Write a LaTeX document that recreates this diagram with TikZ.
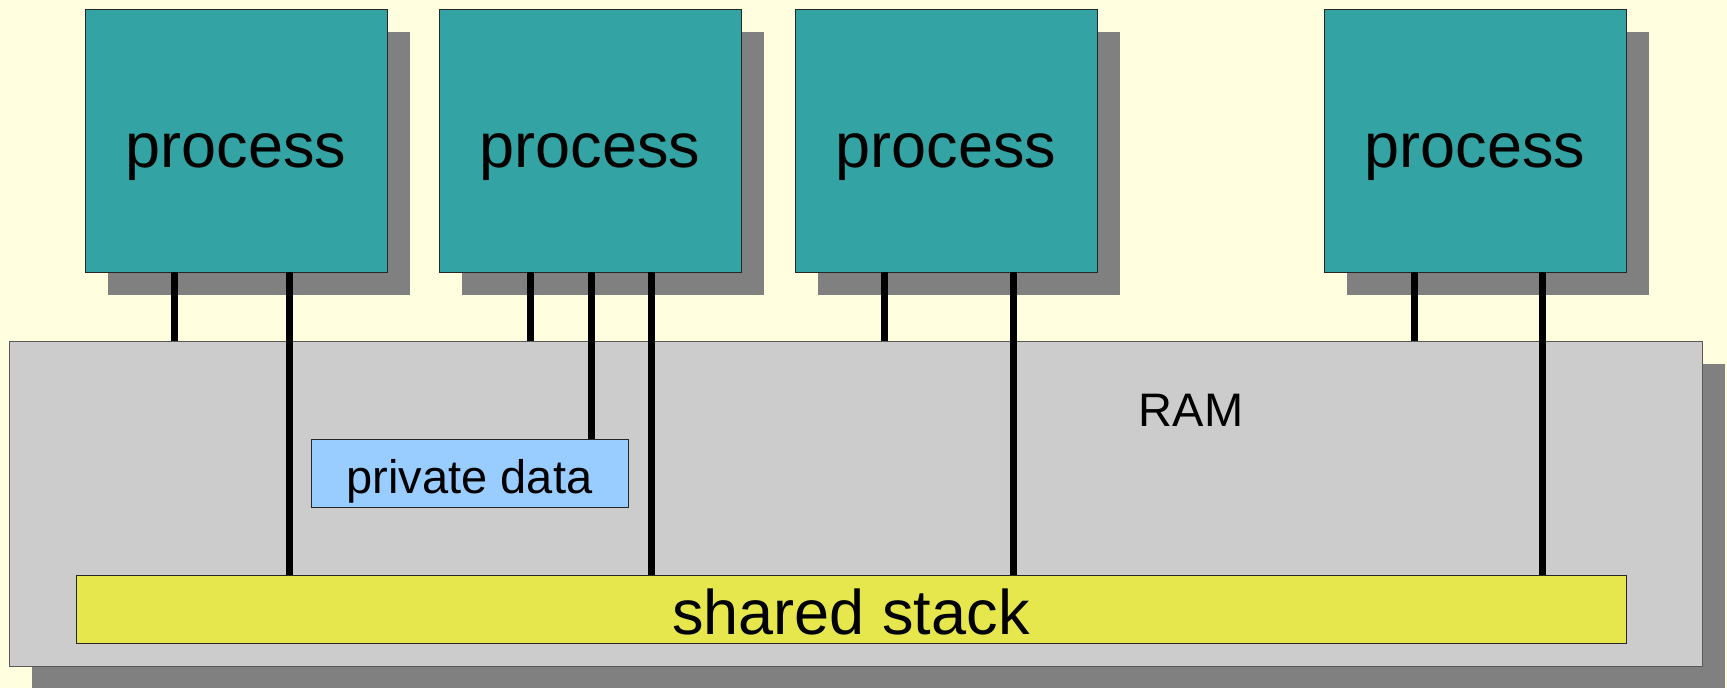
\documentclass[tikz,border=0pt]{standalone}
\usepackage{fontspec}
\setmainfont{Liberation Sans}
\usetikzlibrary{shadows}

\definecolor{paper}{HTML}{FFFFE0}
\definecolor{procfill}{HTML}{33A3A3}
\definecolor{shadowgray}{HTML}{808080}
\definecolor{ramfill}{HTML}{CCCCCC}
\definecolor{stackfill}{HTML}{E6E64D}
\definecolor{privfill}{HTML}{99CCFF}

\tikzset{
  box/.style={draw=black!85, line width=1pt, anchor=north west, inner sep=0pt, outer sep=0pt,
              text depth=0pt},
  shade23/.style={drop shadow={shadow xshift=23pt, shadow yshift=-23pt, fill=shadowgray, opacity=1}},
  proc/.style={box, shade23, fill=procfill, minimum width=302pt, minimum height=263pt,
               font=\fontsize{63}{70}\selectfont, text height=53pt},
  link/.style={line width=7pt, black}
}

\begin{document}
\begin{tikzpicture}[x=1pt, y=-1pt]
  \useasboundingbox (0,0) rectangle (1727,688);
  \fill[paper] (0,0) rectangle (1727,688);

  % memory
  \node[box, shade23, draw=black!65, fill=ramfill, minimum width=1693pt, minimum height=325pt] (ram) at (9,341) {};
  \node[font=\fontsize{47}{52}\selectfont, anchor=base] (ramlabel) at (1191,426) {RAM};
  \node[box, fill=stackfill, minimum width=1550pt, minimum height=68pt,
        font=\fontsize{63}{70}\selectfont, text height=50pt] (stack) at (76,575) {shared stack};
  \node[box, fill=privfill, minimum width=317pt, minimum height=68pt,
        font=\fontsize{47}{52}\selectfont, text height=40pt] (pd) at (311,439) {private data};

  % processes
  \node[proc] (p1) at (85,9) {process};
  \node[proc] (p2) at (439,9) {process};
  \node[proc] (p3) at (795,9) {process};
  \node[proc] (p4) at (1324,9) {process};

  % connections
  \foreach \x/\src/\dst in {174/p1/ram, 289/p1/stack,
                             530/p2/ram, 591/p2/pd, 651/p2/stack,
                             884/p3/ram, 1013/p3/stack,
                             1414/p4/ram, 1542/p4/stack} {
    \coordinate (col) at (\x,0);
    \draw[link] (col |- \src.south) -- (col |- \dst.north);
  }
\end{tikzpicture}
\end{document}
